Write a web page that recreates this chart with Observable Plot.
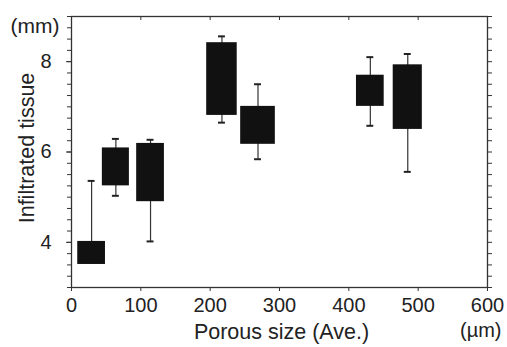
<!DOCTYPE html>
<html><head><meta charset="utf-8">
<script src="https://cdn.jsdelivr.net/npm/d3@7"></script>
<script src="https://cdn.jsdelivr.net/npm/@observablehq/plot@0.6"></script>
<style>
html,body{margin:0;padding:0;background:#fff;}
svg{font-family:"Liberation Sans",Arial,sans-serif;}
</style></head><body><div id="chart"></div>
<script>
const poreSize   = [29, 64, 114, 217, 269, 431, 485];
const boxWidth   = [40, 39, 40, 44, 50, 40, 42];
const boxLow     = [3.51, 5.25, 4.90, 6.81, 6.17, 7.01, 6.50];
const boxHigh    = [4.02, 6.09, 6.19, 8.42, 7.01, 7.70, 7.93];
const whiskerLow = [3.51, 5.03, 4.02, 6.65, 5.84, 6.58, 5.56];
const whiskerHigh= [5.36, 6.29, 6.27, 8.56, 7.50, 8.10, 8.17];
const xTicks = [0, 100, 200, 300, 400, 500, 600];
const yLabelTicks = [4, 6, 8];
const yMinorTicks = d3.range(3, 9.001, 0.25);

const data = poreSize.map((c, i) => ({
  c, x1: c - boxWidth[i] / 2, x2: c + boxWidth[i] / 2,
  lo: boxLow[i], hi: boxHigh[i], wlo: whiskerLow[i], whi: whiskerHigh[i]
}));
const caps = data.flatMap(d => [
  {x1: d.c - 5, x2: d.c + 5, y: d.whi},
  ...(d.wlo < d.lo ? [{x1: d.c - 5, x2: d.c + 5, y: d.wlo}] : [])
]);

const ink = "#222";
const blank = () => "";
const chart = Plot.plot({
  width: 507, height: 347,
  marginLeft: 71, marginRight: 20, marginTop: 16, marginBottom: 60,
  style: {fontSize: "20px", color: ink, background: "#fff"},
  x: {domain: [0, 600]},
  y: {domain: [3, 9]},
  marks: [
    Plot.ruleX(data, {x: "c", y1: "wlo", y2: "whi", stroke: "#333", strokeWidth: 1.2}),
    Plot.ruleY(caps, {x1: "x1", x2: "x2", y: "y", stroke: "#222", strokeWidth: 2}),
    Plot.rect(data, {x1: "x1", x2: "x2", y1: "lo", y2: "hi", fill: "#111"}),
    Plot.frame({stroke: "#333", strokeWidth: 1.3}),
    Plot.axisY(yMinorTicks, {anchor: "left", tickSize: 4, tickFormat: blank, label: null, stroke: "#333"}),
    Plot.axisY(yLabelTicks, {anchor: "left", tickSize: 5, tickPadding: 15, label: null, fill: ink, stroke: "#333", fontSize: 20}),
    Plot.axisY(yMinorTicks, {anchor: "right", tickSize: 4, tickFormat: blank, label: null, stroke: "#333"}),
    Plot.axisX(xTicks, {anchor: "bottom", tickSize: 4, tickPadding: 6, label: null, fill: ink, stroke: "#333", fontSize: 20}),
    Plot.axisX(xTicks, {anchor: "top", tickSize: -3, tickFormat: blank, label: null, stroke: "#333"}),
    Plot.text(["(mm)"], {frameAnchor: "top-left", dx: -61, dy: 2, textAnchor: "start", fill: ink, fontSize: 21}),
    Plot.text(["Infiltrated tissue"], {frameAnchor: "left", textAnchor: "middle", dx: -44, dy: -4, rotate: -90, fill: ink, fontSize: 21.5}),
    Plot.text(["Porous size (Ave.)"], {frameAnchor: "bottom", dx: 2, dy: 51, fill: ink, fontSize: 21.5}),
    Plot.text(["(µm)"], {frameAnchor: "bottom-right", dx: 14, dy: 49, textAnchor: "end", fill: ink, fontSize: 20})
  ]
});
document.getElementById("chart").appendChild(chart);
</script></body></html>
